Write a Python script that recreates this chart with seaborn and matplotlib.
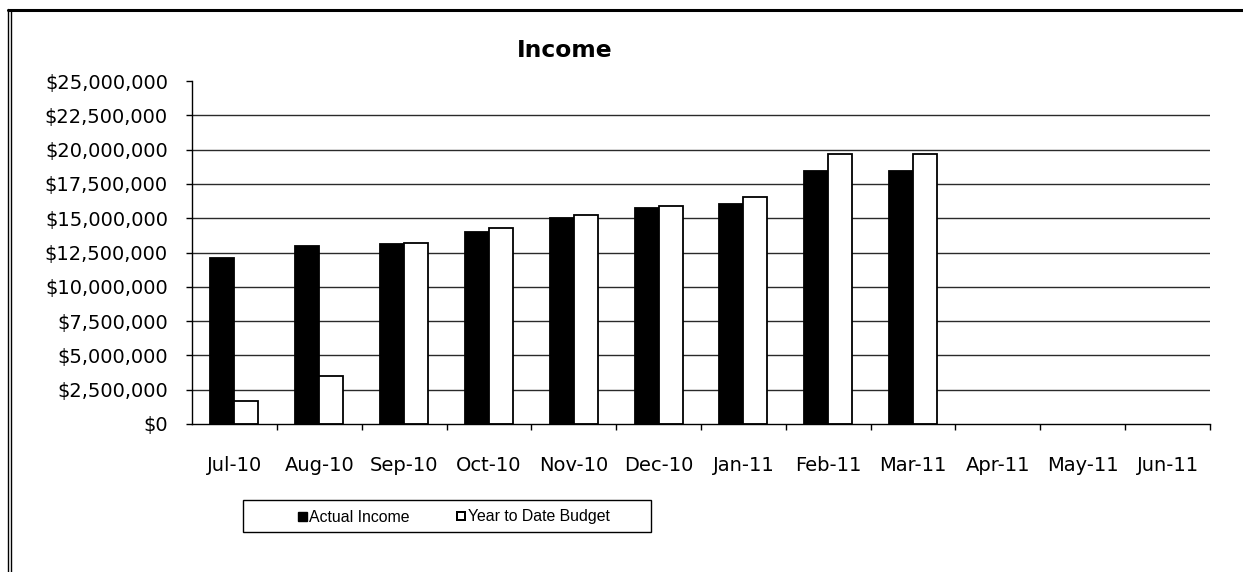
import numpy as np
import pandas as pd
import matplotlib
matplotlib.use("Agg")
import matplotlib.pyplot as plt
import seaborn as sns
from matplotlib.patches import Rectangle
from matplotlib.lines import Line2D
from matplotlib.ticker import FuncFormatter, MultipleLocator

months = ["Jul-10", "Aug-10", "Sep-10", "Oct-10", "Nov-10", "Dec-10",
          "Jan-11", "Feb-11", "Mar-11", "Apr-11", "May-11", "Jun-11"]
actual_income = [12100000, 12950000, 13130000, 13980000, 15000000, 15750000,
                 16020000, 18470000, 18470000, np.nan, np.nan, np.nan]
ytd_budget = [1670000, 3500000, 13180000, 14320000, 15220000, 15870000,
              16530000, 19710000, 19710000, np.nan, np.nan, np.nan]
series_names = ["Actual Income", "Year to Date Budget"]

df = pd.DataFrame({
    "Month": months * 2,
    "Value": actual_income + ytd_budget,
    "Series": [series_names[0]] * len(months) + [series_names[1]] * len(months),
})

sns.set_theme(style="white")
plt.rcParams["font.family"] = ["DejaVu Sans"]
plt.rcParams["text.color"] = "black"
plt.rcParams["xtick.color"] = "black"
plt.rcParams["ytick.color"] = "black"
plt.rcParams["axes.labelcolor"] = "black"

W, H = 1243, 572
PT = 72 / 100  # points per pixel
fig = plt.figure(figsize=(W / 100, H / 100), dpi=100)
ax = fig.add_axes([192 / W, 1 - 424 / H, (1210 - 192) / W, (424 - 81) / H])

sns.barplot(data=df, x="Month", y="Value", hue="Series", order=months,
            hue_order=series_names, palette=["black", "white"],
            width=0.566, gap=0, ax=ax, legend=False, saturation=1)
for p in ax.patches:
    p.set_edgecolor("black")
    p.set_linewidth(1.3)

ax.set_xlim(-0.5, len(months) - 0.5)
ax.set_ylim(0, 25000000)
ax.yaxis.set_major_locator(MultipleLocator(2500000))
ax.yaxis.set_major_formatter(FuncFormatter(lambda v, p: f"${v:,.0f}"))
ax.set_xlabel("")
ax.set_ylabel("")

# gridlines (not at top)
for v in np.arange(2500000, 25000000, 2500000):
    ax.axhline(v, color="#2a2a2a", lw=1.0, zorder=0)
ax.set_axisbelow(True)

for s in ["top", "right"]:
    ax.spines[s].set_visible(False)
for s in ["left", "bottom"]:
    ax.spines[s].set_color("black")
    ax.spines[s].set_linewidth(1.0)

ax.set_xticks(np.arange(len(months)))
ax.set_xticklabels(months)
ax.set_xticks(np.arange(len(months)) + 0.5, minor=True)
ax.tick_params(axis="x", which="major", length=0, pad=32 * PT, labelsize=14,
               labelcolor="black")
ax.tick_params(axis="x", which="minor", length=6 * PT, width=1, color="black",
               direction="out", bottom=True)
ax.tick_params(axis="y", which="major", length=6 * PT, width=1, color="black",
               direction="out", left=True, pad=18 * PT, labelsize=14,
               labelcolor="black")

fig.text(565 / W, 1 - 50.5 / H, "Income", ha="center", va="center",
         fontsize=16.8, fontweight="bold", color="black")

# legend
handles = [Line2D([], [], marker="s", color="none", markerfacecolor="black",
                  markeredgecolor="black", markersize=9 * PT, linestyle="none"),
           Line2D([], [], marker="s", color="none", markerfacecolor="white",
                  markeredgecolor="black", markeredgewidth=2 * PT,
                  markersize=8 * PT, linestyle="none")]
leg = fig.legend(handles, series_names, loc="center",
                 bbox_to_anchor=(454 / W, 1 - 517 / H), ncol=2, frameon=False,
                 prop={"family": ["Liberation Sans", "DejaVu Sans"], "size": 11.4},
                 handlelength=0.55, handletextpad=0.15, columnspacing=3.0,
                 labelcolor="black")
fig.add_artist(Rectangle((243 / W, 1 - 532 / H), (651 - 243) / W, 32 / H,
                         transform=fig.transFigure, fill=False,
                         edgecolor="black", lw=1.0))

# outer border
fig.add_artist(Line2D([8 / W, 8 / W], [0, 1 - 9 / H], transform=fig.transFigure,
                      color="black", lw=1))
fig.add_artist(Line2D([11 / W, 11 / W], [0, 1 - 10 / H], transform=fig.transFigure,
                      color="black", lw=1))
fig.add_artist(Line2D([8 / W, 1], [1 - 10 / H, 1 - 10 / H], transform=fig.transFigure,
                      color="black", lw=2.2))

fig.savefig("out.png", dpi=100)
